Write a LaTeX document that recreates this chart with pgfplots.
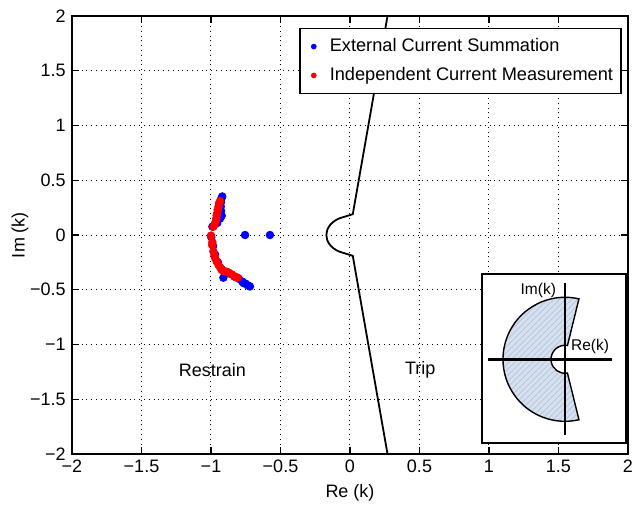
\documentclass[border=0pt]{standalone}
\usepackage{fontspec}
\setmainfont{Liberation Sans}
\usepackage{pgfplots}
\pgfplotsset{compat=1.18}
\usetikzlibrary{patterns}
\begin{document}
\fontsize{9}{11}\selectfont
\begin{tikzpicture}
\useasboundingbox (-36pt,-25.5pt) rectangle (282.5pt,227pt);
\begin{axis}[
  at={(0pt,0pt)}, anchor=south west,
  scale only axis, width=278pt, height=219pt,
  xmin=-2, xmax=2, ymin=-2, ymax=2,
  xtick={-2,-1.5,-1,-0.5,0,0.5,1,1.5,2},
  ytick={-2,-1.5,-1,-0.5,0,0.5,1,1.5,2},
  xticklabels={−2,−1.5,−1,−0.5,0,0.5,1,1.5,2},
  yticklabels={−2,−1.5,−1,−0.5,0,0.5,1,1.5,2},
  tick align=inside, tick pos=both, major tick length=3.5pt,
  grid=major, grid style={black, dotted, line width=0.5pt},
  axis line style={line width=0.9pt},
  every tick/.style={black, line width=0.6pt},
  tick label style={font=\fontsize{9}{11}\selectfont},
  label style={font=\fontsize{9}{11}\selectfont},
  xlabel={Re (k)}, ylabel={Im (k)},
  xlabel style={at={(axis description cs:0.5,-0.089)}, anchor=center},
  ylabel style={at={(axis description cs:-0.0935,0.5)}, anchor=center},
  legend style={at={(axis description cs:0.989,0.973)}, anchor=north east,
    draw=black, line width=0.8pt, font=\fontsize{9.1}{11}\selectfont,
    inner xsep=2pt, inner ysep=3pt, row sep=2.5pt},
  legend cell align=left,
  legend image code/.code={\path[draw=none, fill=none] (0pt,0pt) rectangle (11pt,0pt); \draw[#1, mark size=1pt] plot coordinates {(5pt,0pt)};},
]
\addplot[only marks, mark=*, mark size=1.9pt, color=blue, mark options={draw=blue, fill=blue}] coordinates {
(-0.919,0.352) (-0.925,0.335) (-0.928,0.30) (-0.93,0.26) (-0.928,0.22)
(-0.923,0.176) (-0.935,0.15) (-0.955,0.11) (-0.99,0.076) (-0.755,0.0)
(-0.576,0.0) (-0.998,-0.02) (-0.985,-0.10) (-0.97,-0.18) (-0.95,-0.25)
(-0.925,-0.31) (-0.911,-0.39) (-0.87,-0.35) (-0.83,-0.38) (-0.80,-0.40)
(-0.775,-0.425) (-0.765,-0.44) (-0.75,-0.445) (-0.735,-0.46) (-0.72,-0.47)
};
\addlegendentry{External Current Summation}
\addplot[only marks, mark=*, mark size=1.9pt, color=red, mark options={draw=red, fill=red}] coordinates {
(-0.935,0.31) (-0.942,0.29) (-0.946,0.26) (-0.952,0.23) (-0.955,0.20)
(-0.959,0.18) (-0.962,0.15) (-0.966,0.12) (-0.975,0.095) (-0.983,0.076)
(-1.0,-0.005) (-0.99,-0.065) (-0.992,-0.09) (-0.983,-0.15) (-0.975,-0.19)
(-0.971,-0.21) (-0.96,-0.24) (-0.947,-0.27) (-0.935,-0.295) (-0.923,-0.32)
(-0.905,-0.33) (-0.887,-0.335) (-0.87,-0.345) (-0.851,-0.36) (-0.835,-0.375)
(-0.82,-0.385) (-0.808,-0.39)
};
\addlegendentry{Independent Current Measurement}
\addplot[black, line width=0.9pt, forget plot] coordinates {
(0.27,2) (0.02,0.19) (-0.0718,0.1541) (-0.0975,0.1393) (-0.1202,0.1202)
(-0.1393,0.0975) (-0.1541,0.0718) (-0.1642,0.0440) (-0.17,0)
(-0.1642,-0.0440) (-0.1541,-0.0718) (-0.1393,-0.0975) (-0.1202,-0.1202)
(-0.0975,-0.1393) (-0.0718,-0.1541) (0.02,-0.19) (0.27,-2)
};
\node at (axis cs:-0.99,-1.235) {Restrain};
\node at (axis cs:0.505,-1.235) {Trip};
\end{axis}
% inset schematic
\draw[line width=0.9pt, fill=white] (205pt,5.5pt) rectangle (277pt,90pt);
\begin{scope}[shift={(246.5pt,47.35pt)}]
\def\insetshape{(77:31pt) arc[start angle=77,end angle=283,radius=31pt] -- (280:7pt) arc[start angle=280,end angle=80,radius=7pt] -- cycle}
\fill[fill={rgb,255:red,214;green,224;blue,238}] \insetshape;
\fill[pattern=north east lines, pattern color={rgb,255:red,184;green,199;blue,224}] \insetshape;
\draw[line width=0.7pt] \insetshape;
\draw[line width=1.4pt] (-38.35pt,0pt) -- (23.35pt,0pt);
\draw[line width=1.4pt] (0pt,38pt) -- (0pt,-37.85pt);
\node[font=\fontsize{7.75}{9}\selectfont, inner sep=0pt] at (-13.35pt,34.65pt) {Im(k)};
\node[font=\fontsize{7.75}{9}\selectfont, inner sep=0pt] at (12.5pt,6.3pt) {Re(k)};
\end{scope}
\end{tikzpicture}
\end{document}
